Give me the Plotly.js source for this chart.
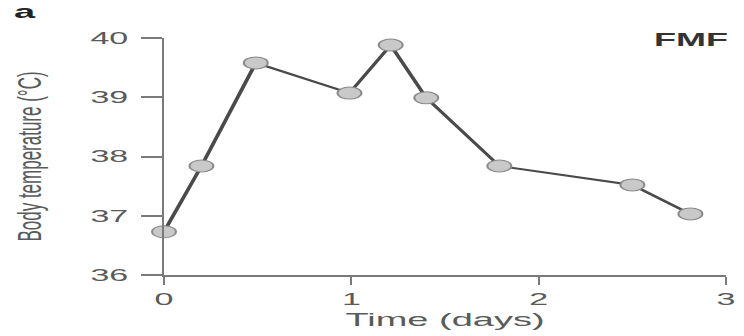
<!DOCTYPE html>
<html>
<head>
<meta charset="utf-8">
<script src="https://cdn.plot.ly/plotly-3.0.1.min.js"></script>
<style>
  html, body { margin: 0; padding: 0; background: #fff; overflow: hidden; }
  #plot { width: 372px; height: 336px; transform: scaleX(2); transform-origin: 0 0; }
</style>
</head>
<body>
<div id="plot"></div>
<script>
// Data
const timeDays = [0, 0.2, 0.49, 0.99, 1.21, 1.4, 1.79, 2.5, 2.81];
const bodyTemp = [36.73, 37.84, 39.58, 39.07, 39.88, 38.99, 37.84, 37.52, 37.03];
const xTicks = [0, 1, 2, 3];
const yTicks = [36, 37, 38, 39, 40];
const panelLabel = 'a';
const seriesLabel = 'FMF';

const FONT = 'Liberation Sans, Arial, Helvetica, sans-serif';
const AXIS = '#7a7a7a';
const TXT = '#5a5a5a';

const trace = {
  x: timeDays,
  y: bodyTemp,
  type: 'scatter',
  mode: 'lines+markers',
  line: { color: '#4a4a4a', width: 2 },
  marker: { symbol: 'circle', size: 12, color: '#c9c9c9', line: { color: '#8a8a8a', width: 1 } },
  cliponaxis: false,
  showlegend: false,
  hoverinfo: 'skip'
};

const layout = {
  width: 372,
  height: 336,
  margin: { l: 81.5, r: 8.5, t: 38, b: 61, pad: 0 },
  paper_bgcolor: '#fff',
  plot_bgcolor: '#fff',
  font: { family: FONT, color: TXT },
  showlegend: false,
  xaxis: {
    range: [0, 3],
    tickvals: xTicks,
    ticktext: xTicks.map(String),
    showgrid: false,
    zeroline: false,
    showline: true,
    linecolor: AXIS,
    linewidth: 2,
    ticks: 'outside',
    ticklen: 8,
    tickwidth: 1,
    tickcolor: AXIS,
    tickfont: { family: FONT, size: 17, color: TXT },
    title: { text: 'Time (days)', font: { family: FONT, size: 19, color: TXT }, standoff: 4 },
    fixedrange: true
  },
  yaxis: {
    range: [36, 40],
    tickvals: yTicks,
    ticktext: yTicks.map(String),
    showgrid: false,
    zeroline: false,
    showline: true,
    linecolor: AXIS,
    linewidth: 1,
    ticks: 'outside',
    ticklen: 10.5,
    tickwidth: 2,
    tickcolor: AXIS,
    ticklabelstandoff: 3,
    tickfont: { family: FONT, size: 17, color: TXT },
    title: { text: 'Body temperature (°C)', font: { family: FONT, size: 17, color: TXT }, standoff: 19 },
    fixedrange: true
  },
  shapes: [
    { type: 'line', xref: 'paper', yref: 'paper', x0: -10 / 282, x1: 0, y0: 0, y1: 0,
      line: { color: AXIS, width: 2 } },
    { type: 'line', xref: 'paper', yref: 'paper', x0: 0, x1: 0, y0: -8 / 237, y1: 0,
      line: { color: AXIS, width: 1 } }
  ],
  annotations: [
    { text: '<b>' + panelLabel + '</b>', xref: 'paper', yref: 'paper',
      x: (12 - 81.5) / 282, y: (275 - 11.5) / 237, xanchor: 'center', yanchor: 'middle',
      showarrow: false, font: { family: FONT, size: 19, color: '#222' } },
    { text: '<b>' + seriesLabel + '</b>', xref: 'paper', yref: 'paper',
      x: (346 - 81.5) / 282, y: (275 - 39.7) / 237, xanchor: 'center', yanchor: 'middle',
      showarrow: false, font: { family: FONT, size: 18, color: '#333' } }
  ]
};

Plotly.newPlot('plot', [trace], layout, { staticPlot: true, displayModeBar: false });
</script>
</body>
</html>
